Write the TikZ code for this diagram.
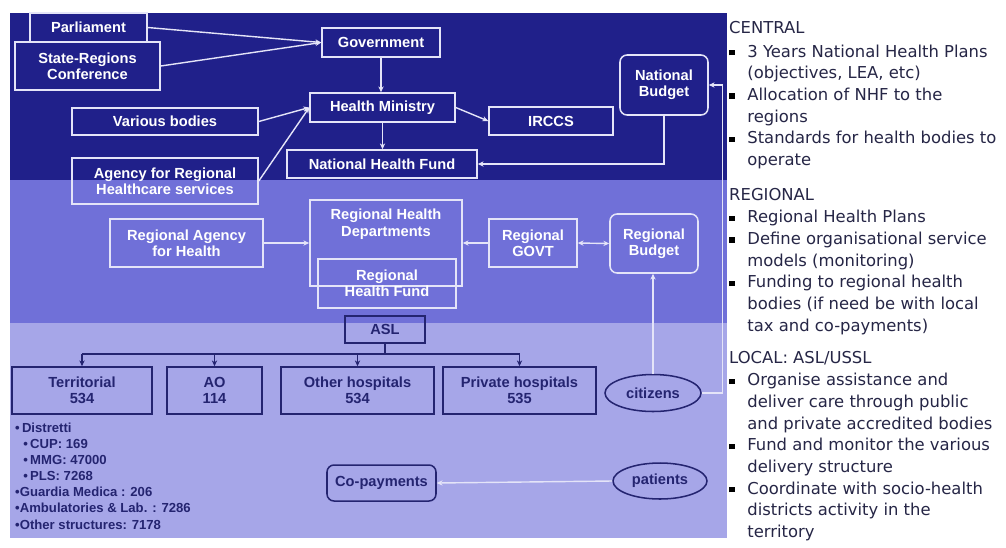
\documentclass[tikz,border=0pt]{standalone}
\usepackage{fontspec}
\setmainfont{Liberation Sans}
\newfontfamily\sidefont{DejaVu Sans}
\usetikzlibrary{positioning}
\usetikzlibrary{arrows.meta}
\usetikzlibrary{shapes.geometric}
\definecolor{navyband}{RGB}{32,32,138}
\definecolor{midband}{RGB}{112,112,216}
\definecolor{lowband}{RGB}{166,166,232}
\definecolor{boxline}{RGB}{228,228,248}
\definecolor{lowink}{RGB}{36,36,112}
\definecolor{sideink}{RGB}{38,38,70}
\newcommand\boxfont{\fontsize{12.5}{14}\selectfont\bfseries}
\newcommand\sq{\leavevmode\textcolor{black}{\rule[1.5pt]{4.6pt}{4.6pt}}}
\tikzset{sz/.style 2 args={minimum width={#1*0.03cm}, minimum height={#2*0.03cm}}}
\tikzset{hibox/.style={draw=boxline, line width=1.3pt, text=white, font=\boxfont, align=center, inner sep=0pt}}
\tikzset{lobox/.style={draw=lowink, line width=1.3pt, text=lowink, font=\boxfont, align=center, inner sep=0pt}}
\tikzset{budget/.style={rounded corners=6pt}}
\tikzset{hiarr/.style={draw=boxline, line width=1.2pt, -{Stealth[length=5pt,width=4.5pt]}}}
\tikzset{loarr/.style={draw=lowink, line width=1.2pt, -{Stealth[length=5pt,width=4.5pt]}}}
\tikzset{sidetxt/.style={anchor=base west, inner sep=0pt, text=sideink, font=\sidefont\fontsize{14}{18.5}\selectfont}}

\begin{document}
\begin{tikzpicture}[x=0.03cm, y=-0.03cm]
    \useasboundingbox (0,0) rectangle (1006,547);
    \fill[white] (0,0) rectangle (1006,547);
    % the three levels
    \fill[navyband] (10,13) rectangle (727,180);
    \fill[midband] (10,180) rectangle (727,323);
    \fill[lowband] (10,323) rectangle (727,538);

    % central level
    \node[hibox, sz={117}{29}] (parl) at (88.5,27.5) {Parliament};
    \node[hibox, sz={145}{48}] (state) at (87.5,66) {State-Regions\\Conference};
    \node[hibox, sz={118}{29}] (gov) at (381,42.5) {Government};
    \node[hibox, budget, sz={88}{60}] (nbud) at (664,85) {National\\Budget};
    \node[hibox, sz={145}{29}] (hm) at (382.5,107.5) {Health Ministry};
    \node[hibox, sz={124}{28}] (irccs) at (551,121) {IRCCS};
    \node[hibox, sz={190}{28}] (nhf) at (382,164) {National Health Fund};
    \node[hibox, sz={186}{27}] (various) at (165,121.5) {Various bodies};
    \node[hibox, sz={186}{46}] (agency) at (165,181) {Agency for Regional\\Healthcare services};

    % regional level
    \node[hibox, sz={153}{48}] (ragency) at (186.5,243) {Regional Agency\\for Health};
    \node[hibox, sz={152}{86}] (rhd) at (386,243) {};
    \node[text=white, font=\boxfont, align=center, anchor=north] (rhdtxt)
        at ([yshift=-5pt]rhd.north) {Regional Health\\Departments};
    \node[hibox, sz={138}{49}] (rhf) at (387,283.5) {Regional\\Health Fund};
    \node[hibox, sz={88}{48}] (rgovt) at (533,243) {Regional\\GOVT};
    \node[hibox, budget, sz={88}{59}] (rbud) at (654,243.5) {Regional\\Budget};

    % local level
    \node[lobox, sz={80}{27}] (asl) at (385,329.5) {ASL};
    \node[lobox, sz={140}{47}] (terr) at (82,390.5) {Territorial\\534};
    \node[lobox, sz={95}{47}] (ao) at (214.5,390.5) {AO\\114};
    \node[lobox, sz={153}{47}] (othh) at (357.5,390.5) {Other hospitals\\534};
    \node[lobox, sz={153}{47}] (privh) at (519.5,390.5) {Private hospitals\\535};
    \node[lobox, ellipse, sz={96}{37}] (citz) at (653,393) {citizens};
    \node[lobox, budget, sz={109}{36}] (copay) at (381.5,483) {Co-payments};
    \node[lobox, ellipse, sz={94}{36}] (pat) at (660,481) {patients};
    \node[anchor=base west, inner sep=0pt, text=lowink,
        font=\fontsize{11.2}{13.8}\selectfont\bfseries] (struct) at (15,432) {%
        \begin{tabular}[t]{@{}l@{}}
        \textbullet\,Distretti\\
        \hspace{7pt}\textbullet\,CUP: 169\\
        \hspace{7pt}\textbullet\,MMG: 47000\\
        \hspace{7pt}\textbullet\,PLS: 7268\\
        \textbullet Guardia Medica : 206\\
        \textbullet Ambulatories \& Lab. : 7286\\
        \textbullet Other structures: 7178
        \end{tabular}};

    % connectors
    \draw[hiarr] (parl.east) -- (gov.west);
    \draw[hiarr] (state.east) -- (gov.west);
    \draw[hiarr] (gov.south) -- (gov.south |- hm.north);
    \draw[hiarr] (hm.south) -- (hm.south |- nhf.north);
    \draw[hiarr] (hm.east) -- (irccs.west);
    \draw[hiarr] (various.east) -- (hm.west);
    \draw[hiarr] (agency.east) -- (hm.west);
    \draw[hiarr] (nbud.south) |- (nhf.east);
    \draw[hiarr] (citz.east) -- ++(21,0) |- (nbud.east);
    \draw[hiarr] (citz.north) -- (citz.north |- rbud.south);
    \draw[hiarr] (ragency.east) -- (rhd.west);
    \draw[hiarr] (rgovt.west) -- (rhd.east);
    \draw[hiarr, {Stealth[length=5pt,width=4.5pt]}-{Stealth[length=5pt,width=4.5pt]}] (rgovt.east) -- (rbud.west);
    \coordinate (bus) at (385,354);
    \draw[lowink, line width=1.2pt] (asl.south) -- (asl.south |- bus);
    \draw[lowink, line width=1.2pt] (terr.north |- bus) -- (privh.north |- bus);
    \foreach \n in {terr,ao,othh,privh}
        \draw[loarr] (\n.north |- bus) -- (\n.north);
    \draw[hiarr] (pat.west) -- (copay.east);

    % notes on the right
    \node[sidetxt] (central) at (729,33) {%
        \begin{tabular}[t]{@{}p{15.5pt}@{}l@{}}
        \multicolumn{2}{@{}l@{}}{CENTRAL}\\[2pt]
        \sq & 3 Years National Health Plans\\
            & (objectives, LEA, etc)\\
        \sq & Allocation of NHF to the\\
            & regions\\
        \sq & Standards for health bodies to\\
            & operate
        \end{tabular}};
    \node[sidetxt] (regional) at (729,200) {%
        \begin{tabular}[t]{@{}p{15.5pt}@{}l@{}}
        \multicolumn{2}{@{}l@{}}{REGIONAL}\\[1pt]
        \sq & Regional Health Plans\\
        \sq & Define organisational service\\
            & models (monitoring)\\
        \sq & Funding to regional health\\
            & bodies (if need be with local\\
            & tax and co-payments)
        \end{tabular}};
    \node[sidetxt] (local) at (729,363) {%
        \begin{tabular}[t]{@{}p{15.5pt}@{}l@{}}
        \multicolumn{2}{@{}l@{}}{LOCAL: ASL/USSL}\\[1pt]
        \sq & Organise assistance and\\
            & deliver care through public\\
            & and private accredited bodies\\
        \sq & Fund and monitor the various\\
            & delivery structure\\
        \sq & Coordinate with socio-health\\
            & districts activity in the\\
            & territory
        \end{tabular}};
\end{tikzpicture}
\end{document}
